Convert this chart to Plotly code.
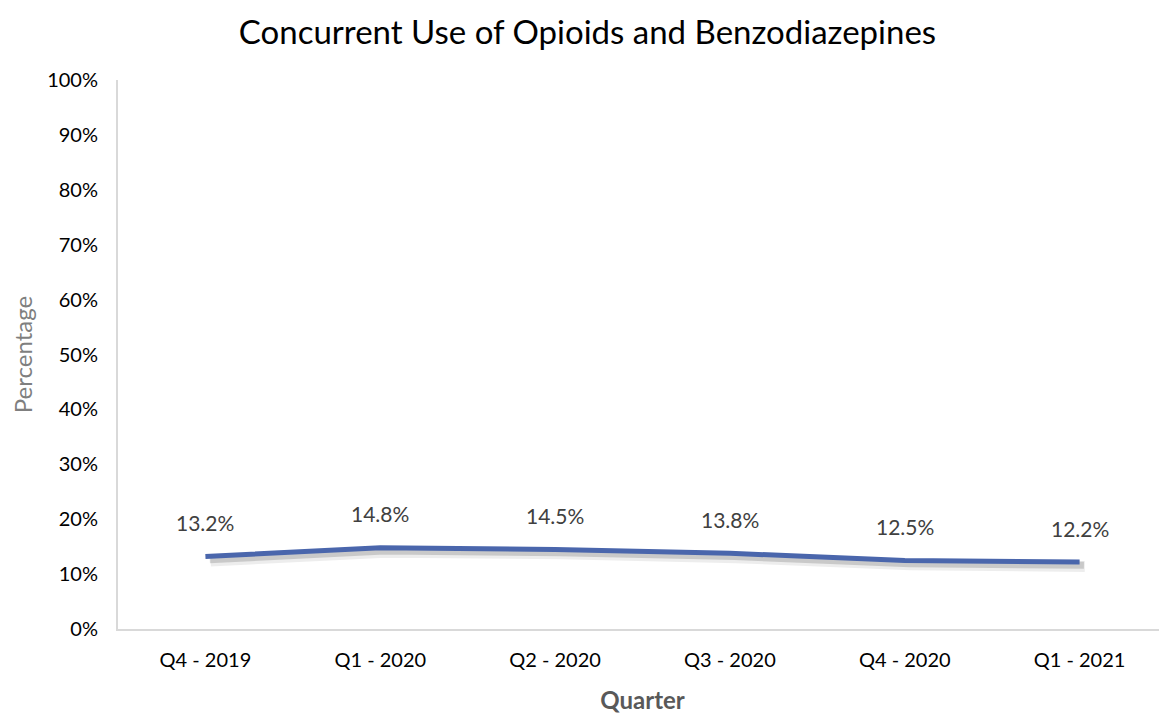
import plotly.graph_objects as go

quarters = ["Q4 - 2019", "Q1 - 2020", "Q2 - 2020", "Q3 - 2020", "Q4 - 2020", "Q1 - 2021"]
concurrent_pct = [13.2, 14.8, 14.5, 13.8, 12.5, 12.2]
y_ticks = [0, 10, 20, 30, 40, 50, 60, 70, 80, 90, 100]
y_tick_labels = [f"{t}%" for t in y_ticks]

FONT = "Lato"
LINE_COLOR = "#4A66AC"

xs = list(range(len(quarters)))

fig = go.Figure()

# soft drop shadow under the line (Excel style)
for dx, dy, w, a in [(0.03, -0.8, 11, 0.07), (0.025, -0.6, 7, 0.15)]:
    fig.add_trace(go.Scatter(
        x=[x + dx for x in xs], y=[v + dy for v in concurrent_pct],
        mode="lines", line=dict(color=f"rgba(0,0,0,{a})", width=w),
        hoverinfo="skip", showlegend=False))

fig.add_trace(go.Scatter(
    x=xs, y=concurrent_pct, mode="lines",
    line=dict(color=LINE_COLOR, width=5),
    name="Concurrent Use", showlegend=False))

# data labels above each point
for x, v in zip(xs, concurrent_pct):
    fig.add_annotation(x=x, y=v, text=f"{v:.1f}%", showarrow=False,
                       yshift=34, font=dict(family=FONT, size=21, color="#404040"))

# page body has an 8px margin, so the figure is sized to fit the window
fig.update_layout(
    width=1159, height=706,
    paper_bgcolor="white", plot_bgcolor="white",
    margin=dict(l=110, r=0, t=72, b=85),
    title=dict(text="Concurrent Use of Opioids and Benzodiazepines",
               x=0.5, xanchor="center", y=0.966, yanchor="middle",
               font=dict(family=FONT, size=33, color="#000000")),
    xaxis=dict(
        range=[-0.5, len(quarters) - 0.5],
        tickvals=xs, ticktext=quarters,
        showgrid=False, zeroline=False,
        showline=True, linecolor="#D9D9D9", linewidth=2,
        ticks="", ticklabelstandoff=12,
        tickfont=dict(family=FONT, size=20, color="#000000"),
        title=dict(text="<b>Quarter</b>", standoff=22,
                   font=dict(family=FONT, size=24, color="#595959")),
    ),
    yaxis=dict(
        range=[0, 100], tickvals=y_ticks, ticktext=y_tick_labels,
        showgrid=False, zeroline=False,
        showline=True, linecolor="#D9D9D9", linewidth=2,
        ticks="", ticklabelstandoff=14,
        tickfont=dict(family=FONT, size=20, color="#000000"),
        title=dict(text="Percentage", standoff=20,
                   font=dict(family=FONT, size=24, color="#7F7F7F")),
    ),
)

fig.write_html("out.html")
